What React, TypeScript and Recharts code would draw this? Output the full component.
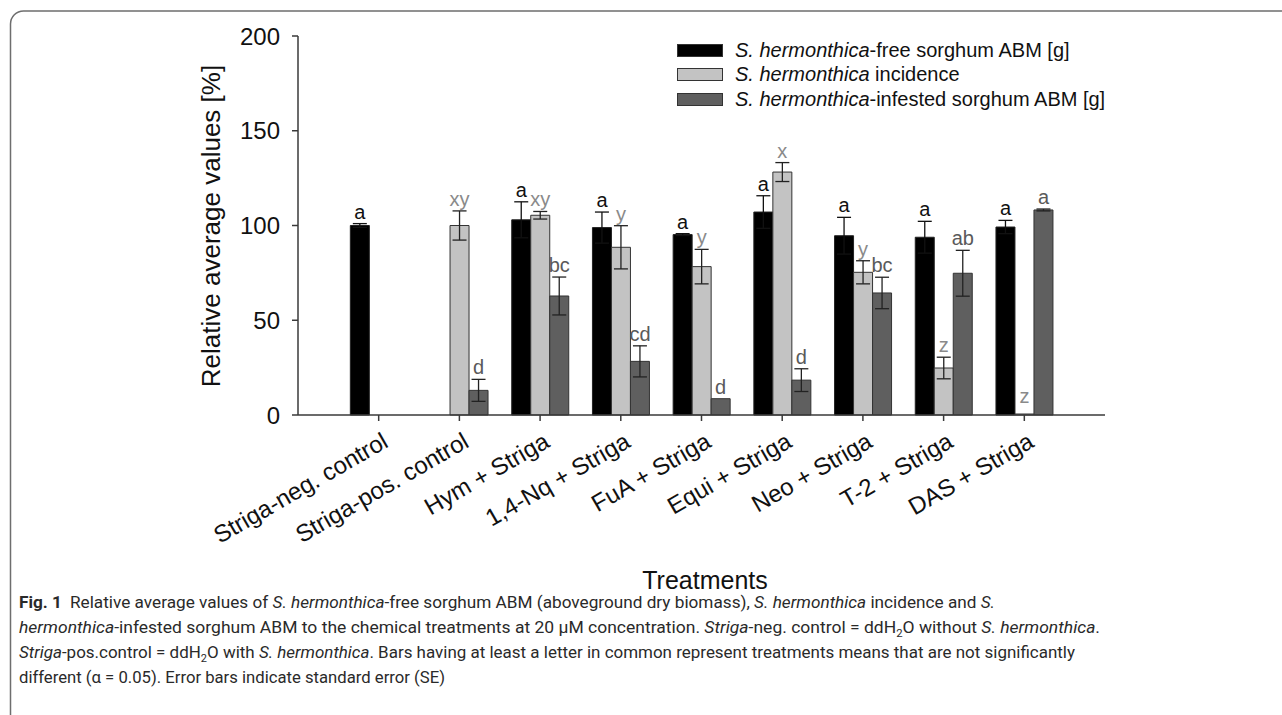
import React from 'react';
import { BarChart, Bar, XAxis, YAxis, ErrorBar, LabelList, Legend } from 'recharts';

const categories = [
  'Striga-neg. control',
  'Striga-pos. control',
  'Hym + Striga',
  '1,4-Nq + Striga',
  'FuA + Striga',
  'Equi + Striga',
  'Neo + Striga',
  'T-2 + Striga',
  'DAS + Striga',
];

const freeABM = [100, null, 103, 98.9, 95.2, 107.1, 94.6, 93.8, 99.2];
const freeSE = [1, null, 9.5, 8.2, 0.5, 8.6, 9.7, 8.4, 3.5];
const freeLetters = ['a', '', 'a', 'a', 'a', 'a', 'a', 'a', 'a'];

const incidence = [null, 100, 105.4, 88.5, 78.3, 128.2, 75.3, 24.8, 0];
const incidenceSE = [null, 7.7, 2, 11.4, 9.1, 5, 6.1, 5.7, 0];
const incidenceLetters = ['', 'xy', 'xy', 'y', 'y', 'x', 'y', 'z', 'z'];

const infested = [null, 13, 62.8, 28.3, 8.6, 18.4, 64.4, 74.8, 108.2];
const infestedSE = [null, 5.8, 10, 8.2, 0, 6, 8.3, 12.1, 0.5];
const infestedLetters = ['', 'd', 'bc', 'cd', 'd', 'd', 'bc', 'ab', 'a'];

const yTicks = [0, 50, 100, 150, 200];

const data = categories.map((name, i) => ({
  name,
  free: freeABM[i],
  freeSE: freeSE[i],
  freeL: freeLetters[i],
  inc: incidence[i],
  incSE: incidenceSE[i],
  incL: incidenceLetters[i],
  inf: infested[i],
  infSE: infestedSE[i],
  infL: infestedLetters[i],
}));

const FONT = "'Liberation Sans', Arial, Helvetica, sans-serif";
const CAP_FONT = "'Liberation Sans Narrow', 'Roboto', 'Open Sans', sans-serif";
const AXIS = '#3a3a3a';

const COLORS = {
  free: '#000000',
  inc: '#c3c3c3',
  inf: '#5f5f5f',
};

function makeLetter(color: string) {
  return (props: any) => {
    const info = props.value;
    if (!info || !info.l) return null;
    const vb = props.viewBox && props.viewBox.width != null ? props.viewBox : props;
    const x = Number(vb.x) + Number(vb.width) / 2;
    const top = Number(vb.y);
    const h = Math.abs(Number(vb.height));
    const v = info.v;
    const se = info.se ?? 0;
    const base = !v ? top - 11 : top - (se * h) / v - 5;
    return (
      <text x={x} y={base} textAnchor="middle" fontSize={20} fill={color} fontFamily={FONT}>
        {info.l}
      </text>
    );
  };
}

const XTick = (props: any) => {
  const { x, y, payload } = props;
  return (
    <text
      x={0}
      y={0}
      transform={`translate(${x + 11},${y + 23}) rotate(-30)`}
      textAnchor="end"
      fontSize={24}
      fill="#111"
      fontFamily={FONT}
    >
      {payload.value}
    </text>
  );
};

const legendItems = [
  { key: 'free', italic: 'S. hermonthica', rest: '-free sorghum ABM [g]' },
  { key: 'inc', italic: 'S. hermonthica', rest: ' incidence' },
  { key: 'inf', italic: 'S. hermonthica', rest: '-infested sorghum ABM [g]' },
];

const LegendContent = () => (
  <div style={{ fontFamily: FONT, fontSize: 20, color: '#111' }}>
    {legendItems.map((it) => (
      <div key={it.key} style={{ display: 'flex', alignItems: 'center', height: 24.5, whiteSpace: 'pre' }}>
        <span
          style={{
            display: 'inline-block',
            width: 44,
            height: 11,
            background: (COLORS as any)[it.key],
            border: '1px solid #333',
            marginRight: 12,
          }}
        />
        <span>
          <i>{it.italic}</i>
          {it.rest}
        </span>
      </div>
    ))}
  </div>
);

const zeroMin = (value: any) => (value === 0 ? 1 : 0);

export default function App() {
  return (
    <div style={{ position: 'absolute', left: 0, top: 0, width: 1282, height: 715, background: '#fff', overflow: 'hidden' }}>
      <BarChart
        width={1282}
        height={715}
        data={data}
        margin={{ top: 36, right: 177, left: 218, bottom: 200 }}
        barGap={0}
        barSize={19}
      >
        <XAxis
          dataKey="name"
          interval={0}
          height={100}
          padding={{ left: 40.33, right: 40.33 }}
          tick={<XTick />}
          tickSize={6}
          tickMargin={2}
          axisLine={{ stroke: AXIS, strokeWidth: 1.5 }}
          tickLine={{ stroke: AXIS, strokeWidth: 1.5 }}
        />
        <XAxis
          xAxisId="top"
          orientation="top"
          dataKey="name"
          height={0}
          tick={false}
          tickLine={false}
          axisLine={{ stroke: AXIS, strokeWidth: 1.5 }}
        />
        <YAxis
          width={80}
          domain={[0, 200]}
          ticks={yTicks}
          interval={0}
          tickSize={6}
          tickMargin={12}
          tick={{ fontSize: 24, fill: '#111', fontFamily: FONT }}
          axisLine={{ stroke: AXIS, strokeWidth: 1.5 }}
          tickLine={{ stroke: AXIS, strokeWidth: 1.5 }}
        />
        <YAxis
          yAxisId="right"
          orientation="right"
          width={0}
          domain={[0, 200]}
          tick={false}
          tickLine={false}
          axisLine={{ stroke: AXIS, strokeWidth: 1.5 }}
        />
        <Legend
          layout="vertical"
          align="center"
          verticalAlign="middle"
          content={<LegendContent />}
          wrapperStyle={{ left: 677, top: 38, width: 430, height: 75 }}
        />
        <Bar dataKey="free" fill={COLORS.free} stroke="#222" strokeWidth={1} isAnimationActive={false}>
          <ErrorBar dataKey="freeSE" width={7} stroke="#111" strokeWidth={1.3} direction="y" />
          <LabelList
            dataKey={(d: any) => ({ v: d.free, se: d.freeSE, l: d.freeL })}
            content={makeLetter('#111')}
          />
        </Bar>
        <Bar
          dataKey="inc"
          fill={COLORS.inc}
          stroke="#333"
          strokeWidth={1}
          minPointSize={zeroMin as any}
          isAnimationActive={false}
        >
          <ErrorBar dataKey="incSE" width={7} stroke="#222" strokeWidth={1.3} direction="y" />
          <LabelList
            dataKey={(d: any) => ({ v: d.inc, se: d.incSE, l: d.incL })}
            content={makeLetter('#8a8a8a')}
          />
        </Bar>
        <Bar dataKey="inf" fill={COLORS.inf} stroke="#333" strokeWidth={1} isAnimationActive={false}>
          <ErrorBar dataKey="infSE" width={7} stroke="#222" strokeWidth={1.3} direction="y" />
          <LabelList
            dataKey={(d: any) => ({ v: d.inf, se: d.infSE, l: d.infL })}
            content={makeLetter('#5a5a5a')}
          />
        </Bar>
      </BarChart>
      <svg
        width={1282}
        height={715}
        style={{ position: 'absolute', left: 0, top: 0, pointerEvents: 'none' }}
      >
        <rect x={10.5} y={11} width={1400} height={800} rx={13} fill="none" stroke="#6e6e6e" strokeWidth={1.5} />
        <text
          x={220}
          y={226}
          transform="rotate(-90 220 226)"
          textAnchor="middle"
          fontSize={26}
          fill="#111"
          fontFamily={FONT}
        >
          Relative average values [%]
        </text>
        <text x={705} y={589} textAnchor="middle" fontSize={25} fill="#111" fontFamily={FONT}>
          Treatments
        </text>
        <g fontFamily={CAP_FONT} fontSize={17} fill="#2a2a2a">
          <text x={19} y={608} textLength={976} lengthAdjust="spacingAndGlyphs">
            <tspan fontWeight="bold">Fig. 1</tspan>
            <tspan dx={8}>Relative average values of </tspan>
            <tspan fontStyle="italic">S. hermonthica</tspan>
            <tspan>-free sorghum ABM (aboveground dry biomass), </tspan>
            <tspan fontStyle="italic">S. hermonthica</tspan>
            <tspan> incidence and </tspan>
            <tspan fontStyle="italic">S.</tspan>
          </text>
          <text x={19} y={633} textLength={1081} lengthAdjust="spacingAndGlyphs">
            <tspan fontStyle="italic">hermonthica</tspan>
            <tspan>-infested sorghum ABM to the chemical treatments at 20 µM concentration. </tspan>
            <tspan fontStyle="italic">Striga</tspan>
            <tspan>-neg. control = ddH</tspan>
            <tspan dy={4} fontSize={11}>2</tspan>
            <tspan dy={-4}>O without </tspan>
            <tspan fontStyle="italic">S. hermonthica</tspan>
            <tspan>.</tspan>
          </text>
          <text x={19} y={658} textLength={1056} lengthAdjust="spacingAndGlyphs">
            <tspan fontStyle="italic">Striga</tspan>
            <tspan>-pos.control = ddH</tspan>
            <tspan dy={4} fontSize={11}>2</tspan>
            <tspan dy={-4}>O with </tspan>
            <tspan fontStyle="italic">S. hermonthica</tspan>
            <tspan>. Bars having at least a letter in common represent treatments means that are not significantly</tspan>
          </text>
          <text x={19} y={683} textLength={426} lengthAdjust="spacingAndGlyphs">
            different (α = 0.05). Error bars indicate standard error (SE)
          </text>
        </g>
      </svg>
    </div>
  );
}
